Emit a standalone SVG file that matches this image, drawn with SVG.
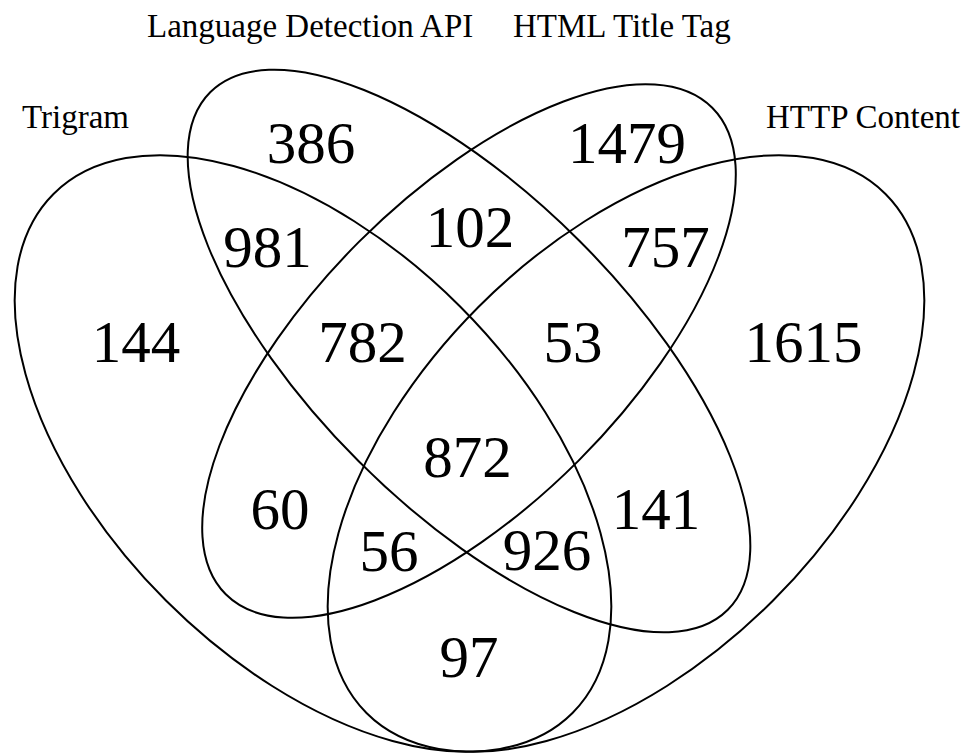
<svg xmlns="http://www.w3.org/2000/svg" width="966" height="754" viewBox="0 0 966 754">
<style>
.set{fill:none;stroke:#000;stroke-width:2}
.lbl{font-family:"Liberation Serif","Times New Roman",serif;font-size:33px;fill:#000}
.num{font-family:"Liberation Serif","Times New Roman",serif;font-size:59px;fill:#000;text-anchor:middle}
</style>
<rect width="966" height="754" fill="#fff"/>
<g id="connectors"></g>
<g id="set-trigram">
<ellipse class="set" cx="0" cy="0" rx="367" ry="208" transform="translate(313 453.5) rotate(45)"/>
<text class="lbl" x="22" y="128">Trigram</text>
</g>
<g id="set-language-detection-api">
<ellipse class="set" cx="0" cy="0" rx="366" ry="156" transform="translate(469 351) rotate(45)"/>
<text class="lbl" x="147" y="37">Language Detection API</text>
</g>
<g id="set-html-title-tag">
<ellipse class="set" cx="0" cy="0" rx="344" ry="155" transform="translate(469 351) rotate(-45)"/>
<text class="lbl" x="513" y="37">HTML Title Tag</text>
</g>
<g id="set-http-content">
<ellipse class="set" cx="0" cy="0" rx="367" ry="208" transform="translate(626 453.5) rotate(-45)"/>
<text class="lbl" x="766" y="128">HTTP Content</text>
</g>
<g id="counts">
<text class="num" x="311" y="163">386</text>
<text class="num" x="627" y="163">1479</text>
<text class="num" x="267.5" y="267">981</text>
<text class="num" x="470" y="247">102</text>
<text class="num" x="665.5" y="267">757</text>
<text class="num" x="136" y="362">144</text>
<text class="num" x="362.5" y="362">782</text>
<text class="num" x="573" y="362">53</text>
<text class="num" x="803.5" y="362">1615</text>
<text class="num" x="467.5" y="477">872</text>
<text class="num" x="280" y="529">60</text>
<text class="num" x="656" y="529">141</text>
<text class="num" x="389" y="571">56</text>
<text class="num" x="547" y="570">926</text>
<text class="num" x="469" y="677">97</text>
</g>
</svg>
